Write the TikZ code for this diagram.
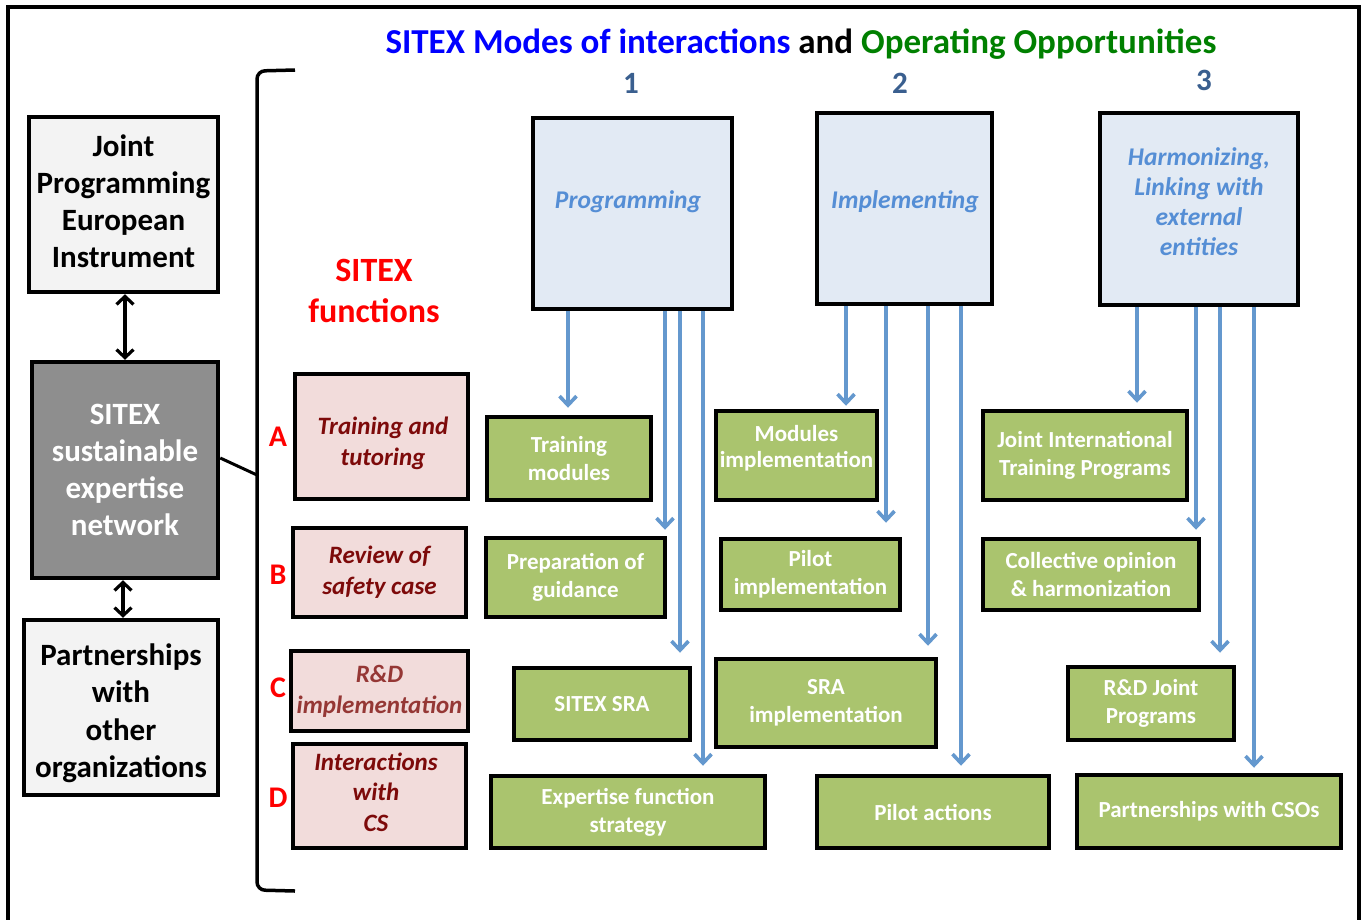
\documentclass[tikz,border=0pt]{standalone}
\usepackage{fontspec}
\setmainfont{Carlito}
\usetikzlibrary{arrows.meta,shadows}
\definecolor{hblue}{RGB}{0,0,255}
\definecolor{hgreen}{RGB}{0,128,0}
\definecolor{fred}{RGB}{255,0,0}
\definecolor{numc}{RGB}{58,95,143}
\definecolor{lgray}{RGB}{243,243,243}
\definecolor{dgray}{RGB}{142,142,142}
\definecolor{pinkf}{RGB}{242,220,219}
\definecolor{pinkt}{RGB}{125,10,10}
\definecolor{pinkt2}{RGB}{149,55,53}
\definecolor{modef}{RGB}{226,234,244}
\definecolor{modet}{RGB}{85,142,213}
\definecolor{greenf}{RGB}{170,196,110}
\definecolor{arrc}{RGB}{100,152,206}
\begin{document}
\begin{tikzpicture}[x=1pt,y=-1pt,
  box/.style={draw=black,line width=4.5pt,inner sep=0pt,align=center,
    drop shadow={shadow xshift=2pt,shadow yshift=-2pt,opacity=0.25,fill=black}},
  leftbox/.style={box,fill=lgray,font=\fontsize{31}{37}\selectfont\bfseries},
  netbox/.style={box,fill=dgray,text=white,font=\fontsize{31}{37}\selectfont\bfseries},
  funcbox/.style={box,fill=pinkf,text=pinkt,font=\fontsize{25}{31}\selectfont\bfseries\itshape},
  modebox/.style={box,fill=modef},
  modetext/.style={text=modet,font=\fontsize{25.5}{30}\selectfont\bfseries\itshape,inner sep=0pt,align=center},
  gbox/.style={box,fill=greenf,text=white,font=\fontsize{23}{28}\selectfont\bfseries},
  gtext/.style={text=white,font=\fontsize{23}{26}\selectfont\bfseries,inner sep=0pt,align=center},
  letter/.style={text=fred,font=\fontsize{30}{36}\selectfont\bfseries,inner sep=0pt},
  num/.style={text=numc,font=\fontsize{31}{36}\selectfont\bfseries,inner sep=0pt},
  barr/.style={draw=arrc,line width=3.6pt,-{Straight Barb[length=9pt,width=17pt,line width=3.6pt]}},
  karr/.style={draw=black,line width=3.2pt,{Straight Barb[length=8pt,width=17pt,line width=3.2pt]}-{Straight Barb[length=8pt,width=17pt,line width=3.2pt]}}
]
\useasboundingbox (0,0) rectangle (1365,919);
\fill[white] (0,0) rectangle (1365,919);
% outer frame
\draw[line width=4pt] (8,940) -- (8,7) -- (1359,7) -- (1359,940);

% title
\node[font=\fontsize{35}{40}\selectfont\bfseries,inner sep=0pt] (title) at (801,44)
  {\textcolor{hblue}{SITEX Modes of interactions} and \textcolor{hgreen}{Operating Opportunities}};
\node[num] (n1) at (631,83) {1};
\node[num] (n2) at (900,83) {2};
\node[num] (n3) at (1204,80) {3};

% left boxes
\node[leftbox,minimum width=189,minimum height=175] (jpei) at (123.5,204.5) {};
\node[font=\fontsize{31}{37}\selectfont\bfseries,align=center,inner sep=0pt] (jpeit) at (123.5,201.5)
  {Joint\\Programming\\European\\Instrument};
\node[netbox,minimum width=186,minimum height=216] (net) at (125,470)
  {SITEX\\sustainable\\expertise\\network};
\node[leftbox,minimum width=194,minimum height=175] (part) at (121,707.5) {};
\node[font=\fontsize{31}{37.5}\selectfont\bfseries,align=center,inner sep=0pt] (partt) at (121,713)
  {Partnerships\\with\\other\\organizations};
\draw[karr] (jpei.south -| 125,0) -- (net.north -| 125,0);
\draw[karr] (net.south -| 123,0) -- (part.north -| 123,0);

% bracket
\coordinate (brk) at (257,475);
\draw[line width=3.5pt,rounded corners=8pt] (295,70) -- (257,71) -- (257,890) -- (295,891);
\draw[line width=3pt] (net.east) ++(0,-12) -- (brk);

% SITEX functions
\node[text=fred,font=\fontsize{34}{41}\selectfont\bfseries,align=center,inner sep=0pt] (sf) at (374,291)
  {SITEX\\functions};

% function boxes
\node[funcbox,minimum width=173,minimum height=125] (fa) at (381.5,436.5) {};
\node[text=pinkt,font=\fontsize{25}{31}\selectfont\bfseries\itshape,align=center,inner sep=0pt] (fat) at (383,443) {Training and\\tutoring};
\node[funcbox,minimum width=173,minimum height=89] (fb) at (379.5,572.5) {Review of\\safety case};
\node[funcbox,text=pinkt2,minimum width=177,minimum height=80] (fc) at (379.5,691) {R\&D\\implementation};
\node[funcbox,minimum width=173,minimum height=104] (fd) at (379.5,796) {};
\node[text=pinkt,font=\fontsize{25}{30.5}\selectfont\bfseries\itshape,align=center,inner sep=0pt] (fdt) at (376,792) {Interactions\\with\\CS};
\node[letter] (la) at (278,437) {A};
\node[letter] (lb) at (278,575) {B};
\node[letter] (lc) at (278,688) {C};
\node[letter] (ld) at (278,798) {D};

% mode boxes
\node[modebox,minimum width=199,minimum height=191] (prog) at (632.5,213.5) {};
\node[modetext] (progt) at (628,202) {Programming};
\node[modebox,minimum width=175,minimum height=191] (impl) at (904.5,208.5) {};
\node[modetext] (implt) at (905,202) {Implementing};
\node[modebox,minimum width=198,minimum height=192] (harm) at (1199,209) {};
\node[modetext] (harmt) at (1199,202) {Harmonizing,\\Linking with\\external\\entities};

% green boxes column 1
\node[gbox,minimum width=164,minimum height=83] (g11) at (569,458.5) {Training\\modules};
\node[gbox,minimum width=179,minimum height=79] (g12) at (575.5,577.5) {Preparation of\\guidance};
\node[gbox,minimum width=176,minimum height=72] (g13) at (602,704) {SITEX SRA};
\node[gbox,minimum width=274,minimum height=72] (g14) at (628,812) {Expertise function\\strategy};
% column 2
\node[gbox,minimum width=161,minimum height=89] (g21) at (796.5,455.5) {};
\node[gtext] (g21t) at (796.5,448) {Modules\\implementation};
\node[gbox,minimum width=179,minimum height=71] (g22) at (810.5,574.5) {Pilot\\implementation};
\node[gbox,minimum width=220,minimum height=88] (g23) at (826,703) {SRA\\implementation};
\node[gbox,minimum width=232,minimum height=72] (g24) at (933,812) {Pilot actions};
% column 3
\node[gbox,minimum width=204,minimum height=89] (g31) at (1085,455.5) {Joint International\\Training Programs};
\node[gbox,minimum width=216,minimum height=71] (g32) at (1091,574.5) {Collective opinion\\\& harmonization};
\node[gbox,minimum width=166,minimum height=73] (g33) at (1151,703.5) {R\&D Joint\\Programs};
\node[gbox,minimum width=264,minimum height=73] (g34) at (1209,811.5) {Partnerships with CSOs};

% blue arrows
\draw[barr,shorten >=7pt] (prog.south -| 568,0) -- (g11.north -| 568,0);
\draw[barr,shorten >=6pt] (prog.south -| 665,0) -- (g12.north -| 665,0);
\draw[barr,shorten >=13pt] (prog.south -| 680,0) -- (g13.north -| 680,0);
\draw[barr,shorten >=8pt] (prog.south -| 703,0) -- (g14.north -| 703,0);

\draw[barr,shorten >=3pt] (impl.south -| 846,0) -- (g21.north -| 846,0);
\draw[barr,shorten >=14pt] (impl.south -| 886,0) -- (g22.north -| 886,0);
\draw[barr,shorten >=11pt] (impl.south -| 928,0) -- (g23.north -| 928,0);
\draw[barr,shorten >=8pt] (impl.south -| 961,0) -- (g24.north -| 961,0);

\draw[barr,shorten >=6pt] (harm.south -| 1137,0) -- (g31.north -| 1137,0);
\draw[barr,shorten >=7pt] (harm.south -| 1196,0) -- (g32.north -| 1196,0);
\draw[barr,shorten >=12pt] (harm.south -| 1220,0) -- (g33.north -| 1220,0);
\draw[barr,shorten >=5pt] (harm.south -| 1254,0) -- (g34.north -| 1254,0);
\end{tikzpicture}
\end{document}
